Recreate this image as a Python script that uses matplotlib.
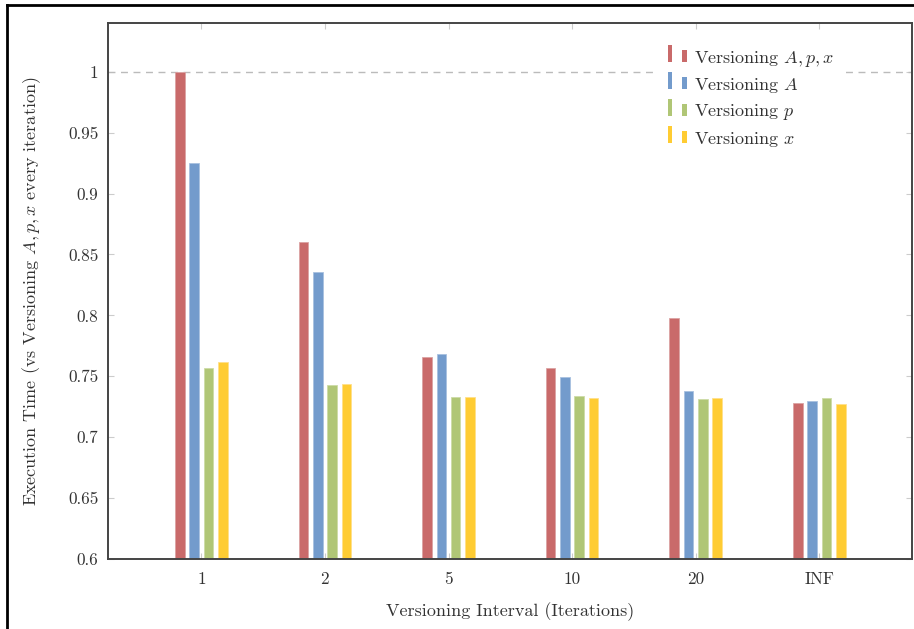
import matplotlib
matplotlib.use("Agg")
import matplotlib.pyplot as plt
from matplotlib.patches import Rectangle
from matplotlib.legend_handler import HandlerBase
from matplotlib.lines import Line2D
import numpy as np

categories = ["1", "2", "5", "10", "20", "INF"]
series_names = ["Versioning $A, p, x$", "Versioning $A$", "Versioning $p$", "Versioning $x$"]
v_Apx = [1.000, 0.860, 0.766, 0.757, 0.798, 0.728]
v_A = [0.925, 0.836, 0.768, 0.749, 0.738, 0.730]
v_p = [0.757, 0.743, 0.733, 0.734, 0.731, 0.732]
v_x = [0.762, 0.744, 0.733, 0.732, 0.732, 0.727]
series = [v_Apx, v_A, v_p, v_x]
colors = ["#c96a6a", "#739bcc", "#b0c676", "#ffcc33"]
edges = ["#dba3a3", "#a8c1e0", "#cddba6", "#ffe08a"]
yticks = [0.6, 0.65, 0.7, 0.75, 0.8, 0.85, 0.9, 0.95, 1.0]
ytick_labels = ["0.6", "0.65", "0.7", "0.75", "0.8", "0.85", "0.9", "0.95", "1"]

plt.rcParams["font.family"] = "serif"
plt.rcParams["font.serif"] = ["cmr10", "DejaVu Serif"]
plt.rcParams["mathtext.fontset"] = "cm"
plt.rcParams["axes.formatter.use_mathtext"] = True

txt = "#333333"
fig = plt.figure(figsize=(9.14, 6.29), dpi=100)
ax = fig.add_axes([108 / 914, (629 - 559) / 629, (911.5 - 108) / 914, (559 - 23) / 629])

x = np.arange(len(categories))
pitch = 0.1157
width = 0.077
for i, (vals, c, ec) in enumerate(zip(series, colors, edges)):
    ax.bar(x + (i - 1.5) * pitch, vals, width=width, bottom=0, color=c,
           edgecolor=ec, linewidth=0.6, zorder=3)

ax.axhline(1.0, color="#bbbbbb", linestyle=(0, (5, 4)), linewidth=1.0, zorder=2)

ax.set_xlim(-0.755, 5.746)
ax.set_ylim(0.6, 1.04)
ax.set_xticks(x)
ax.set_xticklabels(categories)
ax.set_yticks(yticks)
ax.set_yticklabels(ytick_labels)
ax.tick_params(axis="both", direction="in", length=4, color="#cccccc",
               labelsize=12.3, labelcolor=txt)
ax.tick_params(axis="x", top=True, pad=9)
ax.tick_params(axis="y", right=True, pad=7)
for s in ax.spines.values():
    s.set_color("#444444")
    s.set_linewidth(1.4)
    s.set_zorder(5)

ax.set_xlabel("Versioning Interval (Iterations)", fontsize=13, color=txt, labelpad=11)
ax.set_ylabel("Execution Time (vs Versioning $A, p, x$ every iteration)", fontsize=13,
              color=txt, labelpad=18)


class TwoBarHandler(HandlerBase):
    def create_artists(self, legend, orig_handle, xdescent, ydescent, width, height,
                       fontsize, trans):
        c = orig_handle.get_facecolor()
        y0 = -ydescent + 0.05 * height
        r1 = Rectangle((-xdescent, y0), 3.3, 12.2,
                       facecolor=c, edgecolor="none", transform=trans)
        r2 = Rectangle((-xdescent + 10.1, y0), 3.6, 8.6,
                       facecolor=c, edgecolor="none", transform=trans)
        return [r1, r2]


handles = [Rectangle((0, 0), 1, 1, facecolor=c) for c in colors]
leg = ax.legend(handles, series_names, handler_map={Rectangle: TwoBarHandler()},
                loc="upper left", bbox_to_anchor=(0.683, 0.972), borderaxespad=0,
                fontsize=13, frameon=True, fancybox=False, handlelength=1.05,
                handletextpad=0.39, labelspacing=0.40, borderpad=0.6)
leg.get_frame().set_edgecolor("none")
leg.get_frame().set_facecolor("white")
leg.get_frame().set_alpha(1.0)
leg.set_zorder(6)
for t in leg.get_texts():
    t.set_color(txt)

# outer frame of the screenshot (left and top edges)
fig.add_artist(Line2D([7 / 914, 7 / 914], [0, 1 - 5 / 629], transform=fig.transFigure,
                      color="black", linewidth=2.0))
fig.add_artist(Line2D([7 / 914, 1], [1 - 5 / 629, 1 - 5 / 629], transform=fig.transFigure,
                      color="black", linewidth=2.0))

fig.savefig("out.png", dpi=100)
